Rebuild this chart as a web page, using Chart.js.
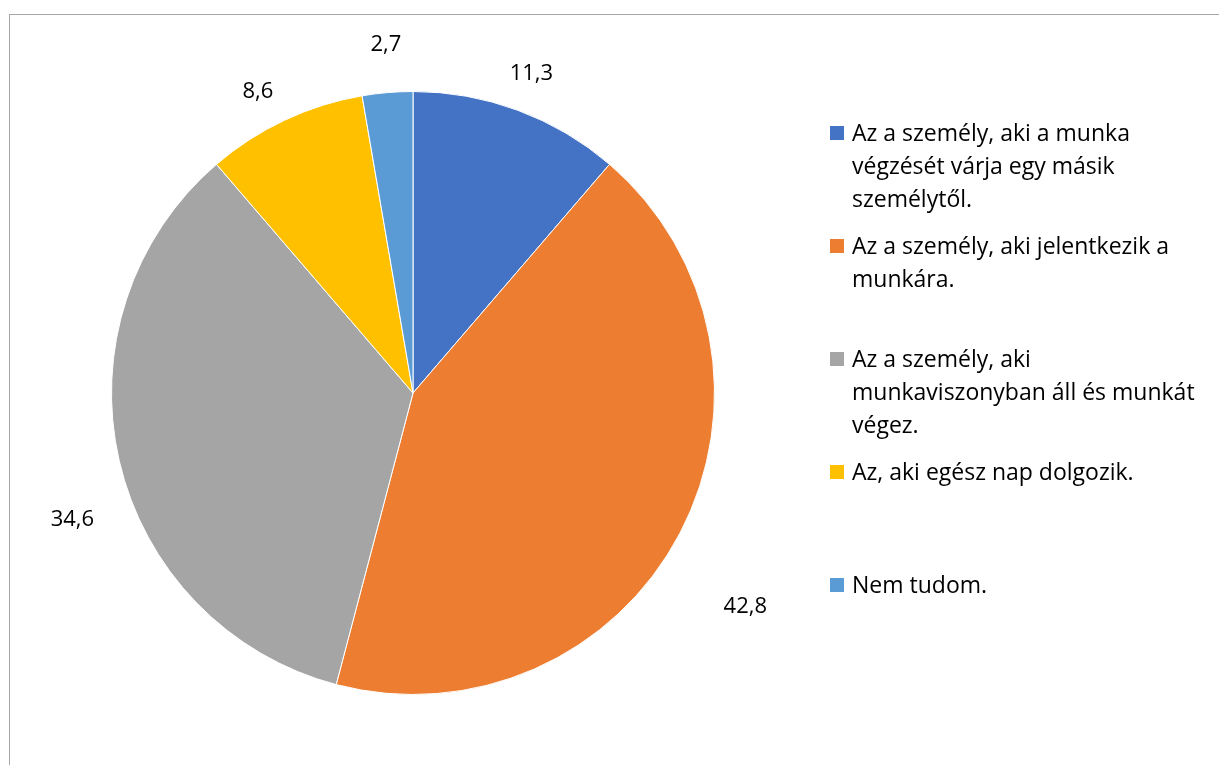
<!DOCTYPE html>
<html>
<head>
<meta charset="utf-8">
<script src="https://cdn.jsdelivr.net/npm/chart.js@4.4.1/dist/chart.umd.min.js"></script>
<style>
    html, body { margin: 0; padding: 0; background: #fff; overflow: hidden; }
    #wrap { position: relative; width: 1219px; height: 765px; }
    #frame {
        position: absolute; left: 9px; top: 14px; width: 1300px; height: 900px;
        border: 1px solid #a6a6a6; box-sizing: border-box;
    }
    #pie { position: absolute; left: 0; top: 0; }
    #legend {
        position: absolute; left: 830px; top: 116px; width: 385px;
        font-family: "Open Sans", sans-serif; font-size: 23px; line-height: 33px; color: #000;
    }
    .item { position: relative; height: 113px; padding-left: 22px; white-space: nowrap; }
    .item .box { position: absolute; left: 0; top: 10px; width: 14px; height: 14px; }
</style>
</head>
<body>
<div id="wrap">
    <div id="frame"></div>
    <canvas id="pie" width="1219" height="765"></canvas>
    <div id="legend"></div>
</div>
<script>
// chart data
const categories = [
    ['Az a személy, aki a munka', 'végzését várja egy másik', 'személytől.'],
    ['Az a személy, aki jelentkezik a', 'munkára.'],
    ['Az a személy, aki', 'munkaviszonyban áll és munkát', 'végez.'],
    ['Az, aki egész nap dolgozik.'],
    ['Nem tudom.']
];
const values = [11.3, 42.8, 34.6, 8.6, 2.7];
const valueLabels = ['11,3', '42,8', '34,6', '8,6', '2,7'];
const colors = ['#4472C4', '#ED7D31', '#A5A5A5', '#FFC000', '#5B9BD5'];

// where each value label sits: radius factor and angle nudge (deg)
const labelPlacement = [
    { dist: 1.13, nudge: 0 },
    { dist: 1.31, nudge: 5 },
    { dist: 1.205, nudge: -7.4 },
    { dist: 1.125, nudge: -2 },
    { dist: 1.16, nudge: 0.4 }
];

const outsideLabels = {
    id: 'outsideLabels',
    afterDatasetsDraw(chart) {
        const ctx = chart.ctx;
        const meta = chart.getDatasetMeta(0);
        ctx.save();
        ctx.font = '22px "Open Sans", sans-serif';
        ctx.fillStyle = '#000';
        ctx.textAlign = 'center';
        ctx.textBaseline = 'middle';
        meta.data.forEach((arc, i) => {
            const p = arc.getProps(['x', 'y', 'startAngle', 'endAngle', 'outerRadius'], true);
            const place = labelPlacement[i];
            const mid = (p.startAngle + p.endAngle) / 2 + place.nudge * Math.PI / 180;
            const r = p.outerRadius * place.dist;
            ctx.fillText(valueLabels[i], p.x + Math.cos(mid) * r, p.y + Math.sin(mid) * r);
        });
        ctx.restore();
    }
};

new Chart(document.getElementById('pie'), {
    type: 'pie',
    data: {
        labels: categories.map(c => c.join(' ')),
        datasets: [{
            data: values,
            backgroundColor: colors,
            borderColor: '#fff',
            borderWidth: 1
        }]
    },
    options: {
        responsive: false,
        animation: false,
        layout: { padding: { left: 111, right: 504, top: 91, bottom: 70 } },
        plugins: {
            legend: { display: false },
            tooltip: { enabled: false }
        }
    },
    plugins: [outsideLabels]
});

// legend, one fixed-height slot per entry like the original
const legend = document.getElementById('legend');
categories.forEach((lines, i) => {
    const item = document.createElement('div');
    item.className = 'item';
    item.innerHTML = `<span class="box" style="background:${colors[i]}"></span>` + lines.join('<br>');
    legend.appendChild(item);
});
</script>
</body>
</html>
